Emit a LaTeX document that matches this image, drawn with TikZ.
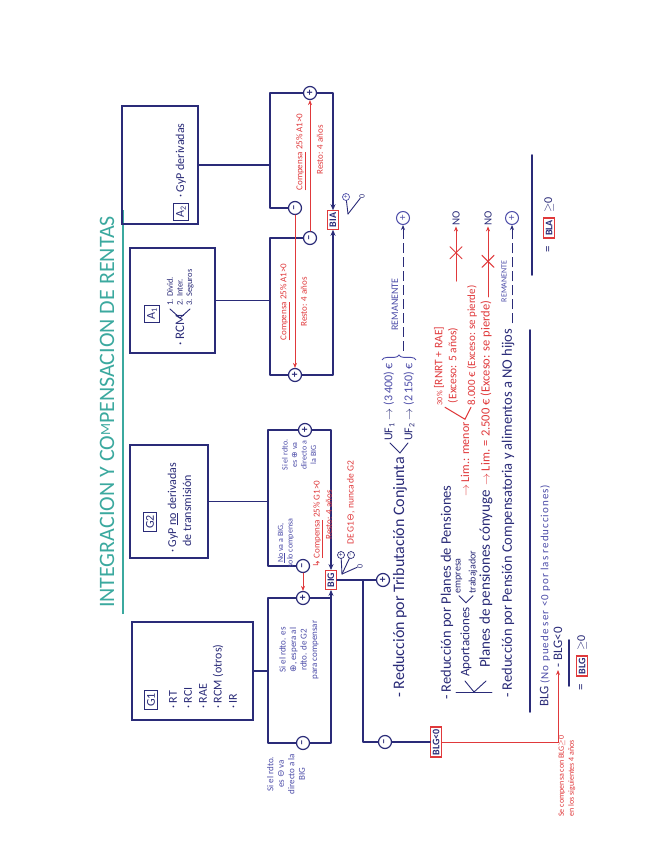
\documentclass[tikz,border=0pt]{standalone}
\usepackage{fontspec}
\setmainfont{Carlito}
\newfontfamily\dv{DejaVu Sans}
\usetikzlibrary{arrows.meta,calc,decorations.pathreplacing}
\definecolor{navy}{HTML}{2A2B78}
\definecolor{pen}{HTML}{4C4CA8}
\definecolor{redpen}{HTML}{E0393B}
\definecolor{tealc}{HTML}{3BA99F}
\newcommand{\myfs}[1]{\fontsize{#1}{#1}\selectfont}
\begin{document}
\begin{tikzpicture}[x=1pt,y=-1pt,
  ln/.style={draw=navy,line width=1.6pt,line cap=round,line join=round},
  arr/.style={ln,-{Stealth[length=6pt,width=5pt]}},
  thinl/.style={draw=navy,line width=0.9pt,line cap=round},
  rln/.style={draw=redpen,line width=1pt,line cap=round},
  rarr/.style={rln,-{Stealth[length=5pt,width=4pt]}},
  darr/.style={draw=navy,line width=1pt,dash pattern=on 10pt off 4pt,-{Stealth[length=5pt,width=4pt]}},
  bigbox/.style={draw=navy,line width=1.6pt,inner sep=0pt},
  lbl/.style={draw=navy,line width=1pt,rotate=90,inner sep=2.5pt,text=navy,font=\myfs{12}},
  btxt/.style={rotate=90,text=navy,inner sep=0pt,font=\myfs{12},anchor=west},
  mtxt/.style={rotate=90,text=navy,inner sep=0pt,font=\myfs{14},anchor=west},
  note/.style={rotate=90,text=pen,inner sep=0pt,font=\fontsize{9}{10.5}\selectfont,align=center},
  rtxt/.style={rotate=90,text=redpen,inner sep=0pt,font=\myfs{9}},
  sg/.style={circle,draw=navy,line width=1.2pt,inner sep=0pt,minimum size=13pt,rotate=90,text=navy,font=\myfs{11}\bfseries},
  ssg/.style={circle,draw=pen,line width=0.7pt,inner sep=0pt,minimum size=7pt,rotate=90,text=pen,font=\myfs{7}},
  rbox/.style={draw=redpen,line width=1.2pt,rotate=90,inner sep=2pt,text=navy,font=\myfs{10}\bfseries},
  plain/.style={rotate=90,text=navy,inner sep=0pt,font=\myfs{11}},
]
\useasboundingbox (0,0) rectangle (655,848);
\fill[white] (0,0) rectangle (655,848);

% ---------- title
\node[rotate=90,text=tealc,inner sep=0pt,font=\myfs{22}] (title) at (107,412) {INTEGRACION Y CO\raisebox{4pt}{\myfs{14}M}PENSACION DE RENTAS};
\coordinate (ulA) at (123,614);
\coordinate (ulB) at (123,210);
\draw[tealc,line width=1.3pt] (ulA) -- (ulB);

% ---------- boxes
\node[bigbox,minimum width=76pt,minimum height=118pt] (a2box) at (160,165) {};
\node[bigbox,minimum width=85pt,minimum height=105pt] (a1box) at (172.5,300.5) {};
\node[bigbox,minimum width=78pt,minimum height=113pt] (g2box) at (169,501.5) {};
\node[bigbox,minimum width=121pt,minimum height=98pt] (g1box) at (192.5,671) {};

\node[lbl] (a2lbl) at (181,212) {A\textsubscript{2}};
\node[btxt] (a2t) at (181,198) {· GyP derivadas};

\node[lbl] (a1lbl) at (152,314) {A\textsubscript{1}};
\node[btxt,font=\myfs{13}] (a1rcm) at (180,346) {· RCM};
\coordinate (a1v) at (180,318);
\coordinate (a1u) at (170,309);
\coordinate (a1d) at (190,309);
\draw[thinl] (a1u) -- (a1v) -- (a1d);
\node[btxt,font=\myfs{8.5}] (a1i1) at (170,306) {1. Divid.};
\node[btxt,font=\myfs{8.5}] (a1i2) at (180,306) {2. Inter.};
\node[btxt,font=\myfs{8.5}] (a1i3) at (190,306) {3. Seguros};

\node[lbl] (g2lbl) at (150,522) {G2};
\node[btxt] (g2t1) at (173,553) {· GyP \underline{no} derivadas};
\node[btxt] (g2t2) at (187,547) {de transmisión};

\node[lbl] (g1lbl) at (151,700) {G1};
\node[btxt] (g1i1) at (173,709) {· RT};
\node[btxt] (g1i2) at (188,709) {· RCI};
\node[btxt] (g1i3) at (203,709) {· RAE};
\node[btxt] (g1i4) at (218,709) {· RCM (otros)};
\node[btxt] (g1i5) at (233,709) {· IR};

% ---------- A brackets
\node[rbox] (bia) at (333,220) {BIA};
\coordinate (a2t0) at (270,93);
\coordinate (a2b0) at (270,208);
\coordinate (a2r) at (333,93);
\coordinate (a2c) at (270,165);
\node[sg] (a2p) at (310,93) {+};
\node[sg] (a2m) at (295,208) {--};
\draw[ln] (a2box.east) -- (a2c);
\draw[arr] (a2m) -- (a2b0) -- (a2t0) -- (a2p) -- (a2r) -- (bia);

\coordinate (a1t0) at (270,238);
\coordinate (a1b0) at (270,375);
\coordinate (a1r) at (333,375);
\coordinate (a1c) at (270,300.5);
\node[sg] (a1m) at (310,238) {--};
\node[sg] (a1p) at (295,375) {+};
\draw[ln] (a1box.east) -- (a1c);
\draw[arr] (a1m) -- (a1t0) -- (a1b0) -- (a1p) -- (a1r) -- (bia);

\draw[rarr] (a1m) -- (a2p);
\draw[rarr] (a2m) -- (a1p);
\node[rtxt] (ca2) at (301,152) {\underline{Compensa} 25\% A1>0};
\node[rtxt] (ra2) at (320,150) {Resto: 4 años};
\node[rtxt] (ca1) at (285,302) {\underline{Compensa} 25\% A1>0};
\node[rtxt] (ra1) at (304,302) {Resto: 4 años};

\node[ssg] (biap) at (346,197) {+};
\node[rotate=90,text=navy,inner sep=0pt,font=\myfs{8}] (bia0) at (362,196) {0};
\coordinate (biaf) at (348,214);
\draw[thinl] (biaf) -- (biap);
\draw[thinl] (biaf) -- (bia0);

% ---------- G brackets
\node[rbox] (big) at (331,580) {BIG};
\coordinate (g2t0) at (268,430);
\coordinate (g2b0) at (268,566);
\coordinate (g2r) at (331,430);
\coordinate (g2c) at (268,501.5);
\node[sg] (g2p) at (305,430) {+};
\node[sg] (g2m) at (303,566) {--};
\draw[ln] (g2box.east) -- (g2c);
\draw[arr] (g2m) -- (g2b0) -- (g2t0) -- (g2p) -- (g2r) -- (big);

\coordinate (g1tl) at (268,598);
\coordinate (g1bl) at (268,743);
\coordinate (g1br) at (331,743);
\coordinate (g1tr) at (331,598);
\coordinate (g1c) at (268,671);
\node[sg] (g1p) at (303,598) {+};
\node[sg] (g1m) at (303,743) {--};
\draw[ln] (g1box.east) -- (g1c);
\draw[arr] (g1p) -- (g1tl) -- (g1bl) -- (g1m) -- (g1br) -- (g1tr) -- (big);
\draw[ln] (g1p) -- (g1tr);
\draw[rarr] (g2m) -- (g1p);

\node[note,font=\fontsize{8}{9.5}\selectfont] (ng2a) at (286,543) {\underline{No} va a BIG,\\solo compensa};
\node[note,font=\fontsize{8}{9.5}\selectfont] (ng2b) at (299,455) {Si el rdto.\\es {\dv ⊕} va\\directo a\\la BIG};
\node[note] (ng1a) at (299,650) {Si el rdto. es\\{\dv ⊕}, espera al\\rdto. de G2\\para compensar};
\node[note] (ng1b) at (286,774) {Si el rdto.\\es {\dv ⊖} va\\directo a la\\BIG};
\node[rtxt,anchor=west] (cg) at (318,568) {{\dv ↳} \underline{Compensa} 25\% G1>0};
\node[rtxt] (rg) at (329,515) {Resto: 4 años};

\node[ssg,draw=navy,text=navy] (bigp) at (341,555) {+};
\node[ssg,draw=navy,text=navy] (bigm) at (351,555) {--};
\node[rotate=90,text=navy,inner sep=0pt,font=\myfs{8}] (big0) at (360,566) {0};
\coordinate (bigf) at (342,574);
\draw[thinl] (bigf) -- (bigp);
\draw[thinl] (bigf) -- (bigm);
\draw[thinl] (bigf) -- (big0);
\node[rtxt,anchor=west,font=\myfs{9.5}] (deg1) at (351,545) {DE G1{\dv ⊖}, nunca de G2};

% ---------- BIG output
\coordinate (bj1) at (363,580);
\coordinate (bj2) at (363,742);
\node[sg] (bgp) at (383,580) {+};
\node[sg] (bgm) at (385,742) {--};
\node[rbox] (blgneg) at (436,742) {BLG<0};
\draw[ln] (big) -- (bj1) -- (bgp);
\draw[ln] (bj1) -- (bj2) -- (bgm) -- (blgneg);

% ---------- reductions
\coordinate (y218) at (0,218);
\node[mtxt,font=\myfs{16}] (r1) at (400,698) {- Reducción por Tributación Conjunta};
\coordinate (uv) at ($(r1.east)+(0,-4)$);
\coordinate (uu) at ($(uv)+(-10,-10)$);
\coordinate (ud) at ($(uv)+(8,-10)$);
\draw[thinl] (uu) -- (uv) -- (ud);
\node[btxt] (uf1) at ($(uu)+(-1,-2)$) {UF\textsubscript{1} $\rightarrow$ \textcolor{pen}{(3\,400) €}};
\node[btxt] (uf2) at ($(ud)+(1,-2)$) {UF\textsubscript{2} $\rightarrow$ \textcolor{pen}{(2\,150) €}};
\draw[pen,line width=0.9pt,decorate,decoration={brace,amplitude=5pt}] ($(uf1.east)+(-7,-3)$) -- ($(uf2.east)+(7,-3)$);
\coordinate (brm) at ($(uf1.east)!0.5!(uf2.east)$);
\coordinate (rm1s) at ($(brm)+(4,-12)$);
\node[ssg,minimum size=13pt,font=\myfs{11},line width=1pt] (rp1) at (rm1s |- y218) {+};
\draw[darr] (rm1s) -- (rp1);
\coordinate (rm1m) at ($(rm1s)!0.35!(rp1)$);
\node[rotate=90,text=pen,inner sep=0pt,font=\myfs{10}] (rem1) at ($(rm1m)+(-8,0)$) {REMANENTE};

\node[mtxt,font=\myfs{14.5}] (r2) at (447,700) {- Reducción por Planes de Pensiones};
\coordinate (k1) at (456,692);
\coordinate (k2) at (492,692);
\coordinate (kv) at (474,692);
\coordinate (ka) at (465,681);
\coordinate (kb) at (486,681);
\draw[thinl] (k1) -- (k2);
\draw[thinl] (ka) -- (kv) -- (kb);
\node[mtxt,font=\myfs{13}] (ap) at (466,677) {Aportaciones};
\coordinate (apv) at ($(ap.east)+(0,-4)$);
\coordinate (apu) at ($(apv)+(-7,-7)$);
\coordinate (apd) at ($(apv)+(7,-7)$);
\draw[thinl] (apu) -- (apv) -- (apd);
\node[btxt,font=\myfs{10}] (emp) at ($(apu)+(0,-2)$) {empresa};
\node[btxt,font=\myfs{10}] (trab) at ($(apd)+(0,-2)$) {trabajador};
\node[rtxt,anchor=west,font=\myfs{12}] (lim1) at (465,497) {$\rightarrow$ Lim.: menor};
\coordinate (lv) at ($(lim1.east)+(0,-3)$);
\coordinate (lu) at ($(lv)+(-20,-12)$);
\coordinate (ld) at ($(lv)+(6,-12)$);
\draw[rln] (lu) -- (lv) -- (ld);
\node[rtxt,anchor=west,font=\myfs{11.5}] (pct) at ($(lu)+(-6,-2)$) {{\myfs{8}30\%} [RNRT + RAE]};
\node[rtxt,anchor=west,font=\myfs{11.5}] (exc5) at ($(lu)+(8,-4)$) {(Exceso: 5 años)};
\node[rtxt,anchor=west,font=\myfs{11}] (e8000) at ($(ld)+(1,-2)$) {8.000 € (Exceso: se pierde)};
\node[plain,font=\myfs{11},inner sep=1pt] (no1) at (456,218) {NO};
\coordinate (x3s) at ($(no1 |- e8000.east)+(0,-4)$);
\draw[rarr] (x3s) -- (no1);
\coordinate (x3c) at ($(x3s)!0.45!(no1)$);
\draw[rln] ($(x3c)+(-6,-6)$) -- ($(x3c)+(6,6)$);
\draw[rln] ($(x3c)+(-6,6)$) -- ($(x3c)+(6,-6)$);

\node[mtxt,font=\myfs{15}] (pc) at (486,668) {Planes de pensiones cónyuge};
\node[rtxt,anchor=west,font=\myfs{12.5}] (lim2) at ($(pc.east)+(0,-4)$) {$\rightarrow$ Lim. = 2.500 € (Exceso: se pierde)};
\node[plain,font=\myfs{11},inner sep=1pt] (no2) at (488,218) {NO};
\coordinate (x4s) at ($(no2 |- lim2.east)+(0,-4)$);
\draw[rarr] (x4s) -- (no2);
\coordinate (x4c) at ($(x4s)!0.45!(no2)$);
\draw[rln] ($(x4c)+(-6,-6)$) -- ($(x4c)+(6,6)$);
\draw[rln] ($(x4c)+(-6,6)$) -- ($(x4c)+(6,-6)$);

\node[mtxt,font=\myfs{14.5}] (r5) at (508,698) {- Reducción por Pensión Compensatoria y alimentos a NO hijos};
\node[ssg,minimum size=13pt,font=\myfs{11},line width=1pt] (rp2) at (512,218) {+};
\coordinate (rm2s) at ($(rp2 |- r5.east)+(0,-5)$);
\draw[darr] (rm2s) -- (rp2);
\coordinate (rm2m) at ($(rm2s)!0.4!(rp2)$);
\node[rotate=90,text=pen,inner sep=0pt,font=\myfs{8}] (rem2) at ($(rm2m)+(-8,0)$) {REMANENTE};

% ---------- totals
\coordinate (sepA) at (530,712);
\coordinate (sepB) at (530,330);
\draw[ln] (sepA) -- (sepB);
\coordinate (sep2A) at (532,275);
\coordinate (sep2B) at (532,155);
\draw[ln] (sep2A) -- (sep2B);

\node[plain,font=\myfs{13}] (eqa) at (549,249) {=};
\node[rbox] (bla) at (549,228) {BLA};
\node[plain,font=\myfs{12}] (gea) at (549,205) {$\geq$0};

\node[mtxt,font=\myfs{13}] (blgl) at (545,707) {BLG \textcolor{pen}{\myfs{11}\addfontfeatures{LetterSpace=9}(No puede ser <0 por las reducciones)}};
\node[mtxt,font=\myfs{13}] (blgm) at (558,668) {- BLG<0};
\coordinate (s3A) at (569,686);
\coordinate (s3B) at (569,640);
\draw[ln] (s3A) -- (s3B);
\node[plain,font=\myfs{13}] (eqg) at (582,687) {=};
\node[rbox] (blgb) at (582,666) {BLG};
\node[plain,font=\myfs{12}] (geg) at (582,643) {$\geq$0};

\draw[rarr,shorten >=2pt] (blgneg) -- (blgm |- blgneg) -- (blgm);
\node[rtxt,align=left,font=\fontsize{8}{10}\selectfont] (secomp) at (567,776) {Se compensa con BLG$\geq$0\\en los siguientes 4 años};
\end{tikzpicture}
\end{document}
